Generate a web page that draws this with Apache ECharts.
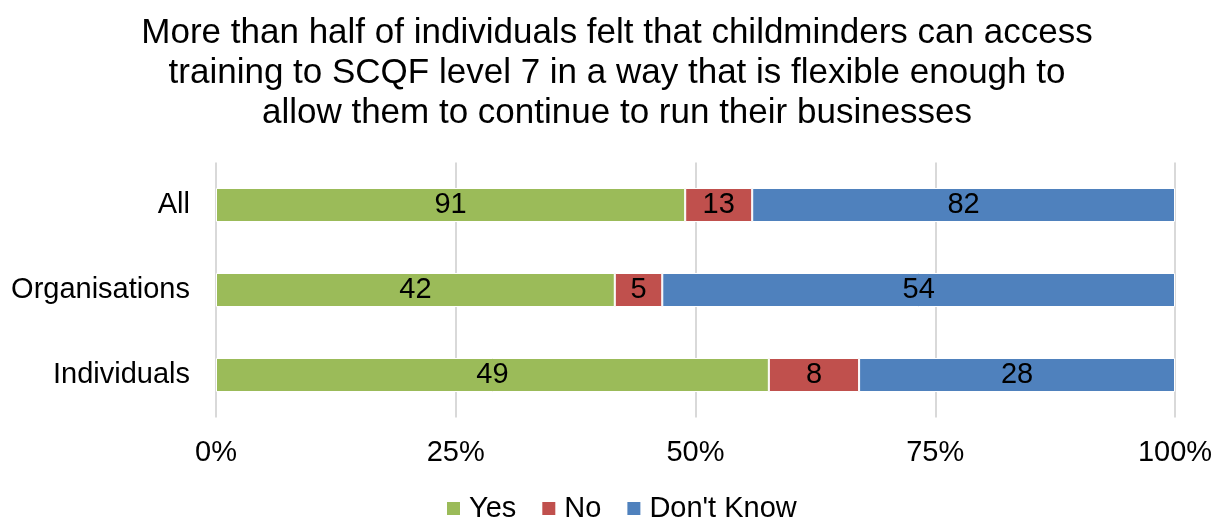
<!DOCTYPE html>
<html><head><meta charset="utf-8">
<script src="https://cdn.jsdelivr.net/npm/echarts@6/dist/echarts.min.js"></script>
<style>html,body{margin:0;padding:0;background:#fff}#c{width:1216px;height:520px}</style>
</head><body><div id="c"></div>
<script>
const categories = ['Individuals', 'Organisations', 'All'];
const yesCounts = [49, 42, 91];
const noCounts = [8, 5, 13];
const dkCounts = [28, 54, 82];
const xTicks = [0, 25, 50, 75, 100];
const seriesNames = ['Yes', 'No', "Don't Know"];
const colors = ['#9BBB59', '#C0504D', '#4F81BD'];

const totals = categories.map((_, i) => yesCounts[i] + noCounts[i] + dkCounts[i]);
const counts = [yesCounts, noCounts, dkCounts];
const font = "'Liberation Sans', Arial, sans-serif";

const chart = echarts.init(document.getElementById('c'));
chart.setOption({
  animation: false,
  title: {
    text: 'More than half of individuals felt that childminders can access\ntraining to SCQF level 7 in a way that is flexible enough to\nallow them to continue to run their businesses',
    left: 612, top: 8, textAlign: 'center',
    textStyle: { fontFamily: font, fontSize: 35, fontWeight: 'normal', color: '#000', lineHeight: 40 }
  },
  legend: {
    top: 489, left: 440,
    itemWidth: 15, itemHeight: 15, itemGap: 24,
    icon: 'rect',
    textStyle: { fontFamily: font, fontSize: 29, color: '#000', padding: [0, 0, 0, 3] },
    data: seriesNames
  },
  grid: { left: 216, right: 41, top: 162.5, bottom: 102.5, containLabel: false },
  xAxis: {
    type: 'value', min: 0, max: 100, interval: 25,
    axisLabel: { formatter: v => xTicks.includes(v) ? v + '%' : '', fontFamily: font, fontSize: 29, color: '#000', margin: 21 },
    axisLine: { show: false }, axisTick: { show: false },
    splitLine: { lineStyle: { color: '#D9D9D9', width: 2 } }
  },
  yAxis: {
    type: 'category', data: categories,
    axisLabel: { fontFamily: font, fontSize: 29, color: '#000', margin: 26 },
    axisLine: { show: false }, axisTick: { show: false }
  },
  series: seriesNames.map((name, s) => ({
    name, type: 'bar', stack: 'total', barWidth: '40%',
    itemStyle: { color: colors[s], borderColor: '#fff', borderWidth: 1 },
    label: {
      show: true, position: 'inside', color: '#000', fontFamily: font, fontSize: 29,
      formatter: p => String(counts[s][p.dataIndex])
    },
    data: categories.map((_, i) => counts[s][i] / totals[i] * 100)
  }))
});
</script></body></html>
